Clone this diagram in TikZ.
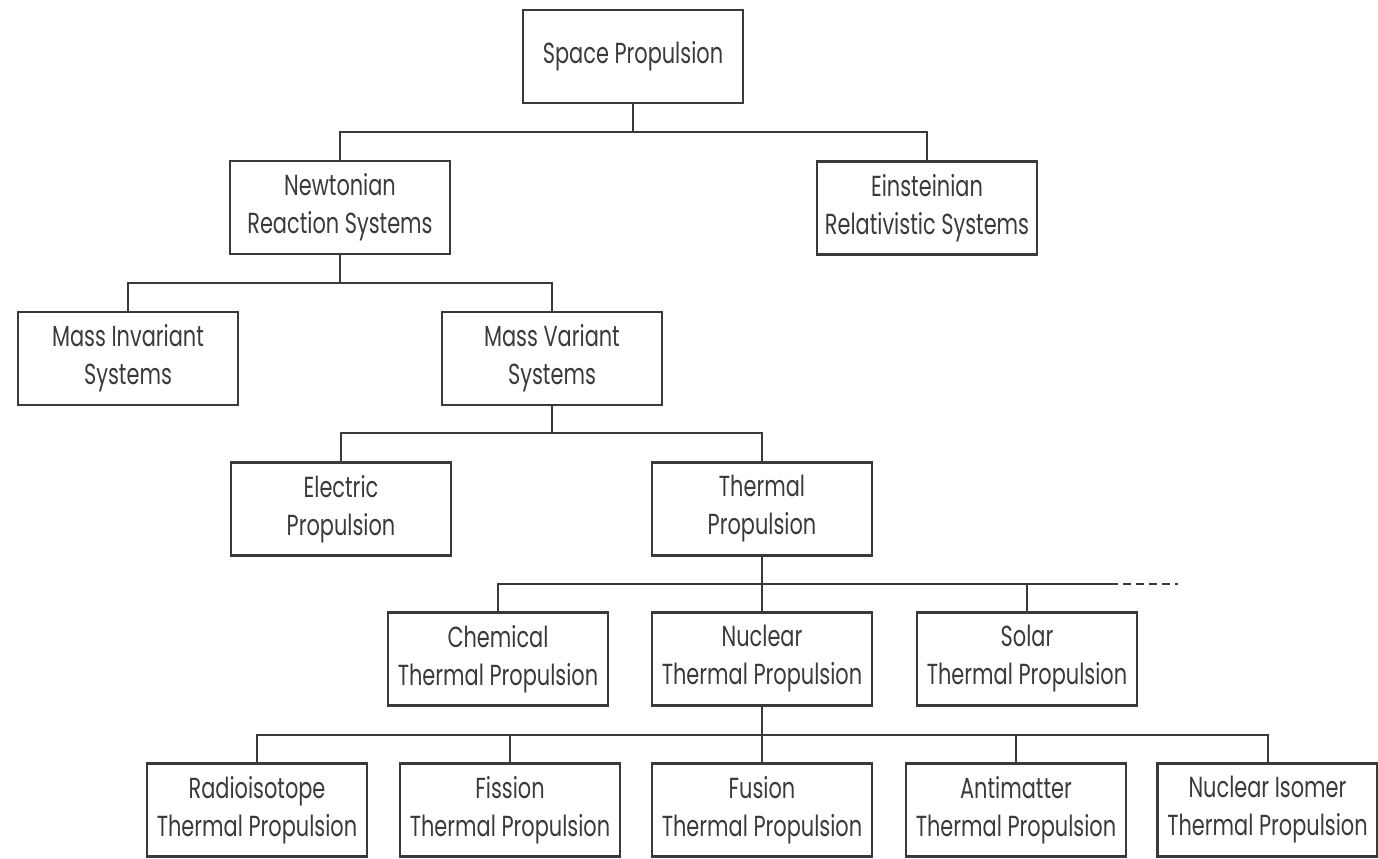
\documentclass[tikz,border=0pt]{standalone}
\usepackage{fontspec}
\setmainfont{Poppins}[FakeStretch=0.72]
\definecolor{ink}{HTML}{3A3A3A}
\begin{document}
\begin{tikzpicture}[x=0.5pt,y=-0.5pt,
  box/.style={draw=ink,line width=1.2pt,minimum width=110pt,minimum height=46.5pt,
    inner sep=0pt,align=center,text=ink,font=\fontsize{14.5}{19}\selectfont},
  conn/.style={draw=ink,line width=1pt}]
\useasboundingbox (0,0) rectangle (1378,858);
\node[box] (sp) at (633,56.5) {Space Propulsion};
\node[box] (newt) at (340,207.5) {Newtonian\\Reaction Systems};
\node[box] (ein) at (927,208) {Einsteinian\\Relativistic Systems};
\node[box] (minv) at (128,358.5) {Mass Invariant\\Systems};
\node[box] (mvar) at (552,358.5) {Mass Variant\\Systems};
\node[box] (elec) at (341,509) {Electric\\Propulsion};
\node[box] (therm) at (762,509) {Thermal\\Propulsion};
\node[box] (chem) at (498,659) {Chemical\\Thermal Propulsion};
\node[box] (nuc) at (762,659) {Nuclear\\Thermal Propulsion};
\node[box] (sol) at (1027,659) {Solar\\Thermal Propulsion};
\node[box] (rad) at (257,810) {Radioisotope\\Thermal Propulsion};
\node[box] (fis) at (510,810) {Fission\\Thermal Propulsion};
\node[box] (fus) at (762,810) {Fusion\\Thermal Propulsion};
\node[box] (anti) at (1016,810) {Antimatter\\Thermal Propulsion};
\node[box] (iso) at (1267.5,810) {Nuclear Isomer\\Thermal Propulsion};
\coordinate (b1) at (0,132);
\coordinate (b2) at (0,283);
\coordinate (b3) at (0,433);
\coordinate (b4) at (0,584);
\coordinate (b5) at (0,735);
\coordinate (d1) at (1110,584);
\coordinate (d2) at (1178,584);
% level 1
\draw[conn] (sp.south) -- (sp.south |- b1);
\draw[conn] (newt.north) -- (newt.north |- b1) -- (ein.north |- b1) -- (ein.north);
% level 2
\draw[conn] (newt.south) -- (newt.south |- b2);
\draw[conn] (minv.north) -- (minv.north |- b2) -- (mvar.north |- b2) -- (mvar.north);
% level 3
\draw[conn] (mvar.south) -- (mvar.south |- b3);
\draw[conn] (elec.north) -- (elec.north |- b3) -- (therm.north |- b3) -- (therm.north);
% level 4
\draw[conn] (therm.south) -- (nuc.north);
\draw[conn] (chem.north) -- (chem.north |- b4) -- (d1);
\draw[conn] (sol.north) -- (sol.north |- b4);
\draw[conn,dash pattern=on 4pt off 2.5pt] (d1) -- (d2);
% level 5
\draw[conn] (nuc.south) -- (fus.north);
\draw[conn] (rad.north) -- (rad.north |- b5) -- (iso.north |- b5) -- (iso.north);
\draw[conn] (fis.north) -- (fis.north |- b5);
\draw[conn] (anti.north) -- (anti.north |- b5);
\end{tikzpicture}
\end{document}
